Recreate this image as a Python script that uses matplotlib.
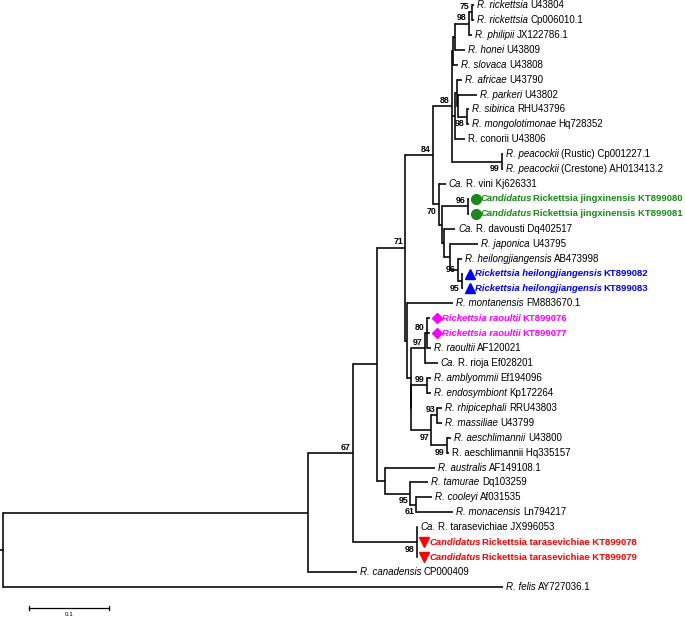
import matplotlib
matplotlib.use("Agg")
import matplotlib.pyplot as plt

# ============ DATOS DEL ARBOL ============
# nodos internos: nombre, padre, longitud de rama, bootstrap
node_names = ["root", "ing", "n67", "nX", "nT", "n71", "nAT", "nTCM", "nCM", "n84",
              "nM", "nN", "nR97", "nR80", "nB", "nA99", "n97b", "n93", "n99a", "n88",
              "n70", "nP", "nJ", "nQ", "nR", "nH96", "nH95", "nPea", "nB1", "nA",
              "n98t", "n75", "nD", "nC", "nC2", "n98s"]
node_parent = [None, "root", "ing", "n67", "n67", "nX", "nX", "nAT", "nTCM", "n71",
               "n71", "nM", "nN", "nR97", "nN", "nB", "nB", "n97b", "n97b", "n84",
               "n84", "n70", "nP", "nP", "nQ", "nR", "nH96", "n88", "n88", "nB1",
               "nA", "n98t", "n88", "nD", "nC", "nC2"]
node_len = [0, 0.381, 0.056, 0.030, 0.080, 0.036, 0.011, 0.031, 0.0075, 0.034,
            0.0025, 0.004, 0.0175, 0.0025, 0.001, 0.019, 0.025, 0.0075, 0.019, 0.024,
            0.0075, 0.004, 0.0325, 0.0025, 0.0075, 0.010, 0.005, 0.0625, 0.001, 0.0025,
            0.0175, 0.004, 0.004, 0.0025, 0.001, 0.011]
node_support = [None, None, 67, None, 98, 71, None, 95, 61, 84,
                None, None, 97, 80, None, 99, 97, 93, 99, 88,
                70, None, 96, None, None, 96, 95, 99, None, None,
                98, 75, None, None, None, 98]
# posicion de la etiqueta de bootstrap respecto al nodo
support_side = {"n67": "up", "nT": "down", "n71": "up", "nTCM": "down", "nCM": "down",
                "n84": "up", "nR97": "up", "nR80": "up", "nA99": "up", "n97b": "down",
                "n93": "up", "n99a": "down", "n88": "up", "n70": "down", "nJ": "up",
                "nH96": "mid", "nH95": "down", "nPea": "down", "n98t": "up", "n75": "up",
                "n98s": "down"}

# hojas (de arriba hacia abajo); *texto* = cursiva
leaf_labels = [
    "*R. rickettsia* U43804", "*R. rickettsia* Cp006010.1", "*R. philipii* JX122786.1",
    "*R. honei* U43809", "*R. slovaca* U43808", "*R. africae* U43790", "*R. parkeri* U43802",
    "*R. sibirica* RHU43796", "*R. mongolotimonae* Hq728352", "R. conorii U43806",
    "*R. peacockii* (Rustic) Cp001227.1", "*R. peacockii* (Crestone) AH013413.2",
    "*Ca.* R. vini Kj626331",
    "*Candidatus* Rickettsia jingxinensis KT899080", "*Candidatus* Rickettsia jingxinensis KT899081",
    "*Ca.* R. davousti Dq402517", "*R. japonica* U43795", "*R. heilongjiangensis* AB473998",
    "*Rickettsia heilongjiangensis* KT899082", "*Rickettsia heilongjiangensis* KT899083",
    "*R. montanensis* FM883670.1",
    "*Rickettsia raoultii* KT899076", "*Rickettsia raoultii* KT899077",
    "*R. raoultii* AF120021", "*Ca.* R. rioja Ef028201", "*R. amblyommii* Ef194096",
    "*R. endosymbiont* Kp172264", "*R. rhipicephali* RRU43803", "*R. massiliae* U43799",
    "*R. aeschlimannii* U43800", "R. aeschlimannii Hq335157", "*R. australis* AF149108.1",
    "*R. tamurae* Dq103259", "*R. cooleyi* Af031535", "*R. monacensis* Ln794217",
    "*Ca.* R. tarasevichiae JX996053",
    "*Candidatus* Rickettsia tarasevichiae KT899078", "*Candidatus* Rickettsia tarasevichiae KT899079",
    "*R. canadensis* CP000409", "*R. felis* AY727036.1"]
leaf_parent = ["n75", "n75", "n98t", "nA", "nB1", "nC", "nC2", "n98s", "n98s", "nD",
               "nPea", "nPea", "n70", "nJ", "nJ", "nQ", "nR", "nH96", "nH95", "nH95",
               "nM", "nR80", "nR80", "nR80", "nR97", "nA99", "nA99", "n93", "n93", "n99a",
               "n99a", "nAT", "nTCM", "nCM", "nCM", "nT", "nT", "nT", "ing", "root"]
leaf_len = [0.003, 0.003, 0.004, 0.013, 0.007, 0.006, 0.024, 0.003, 0.003, 0.0125,
            0.001, 0.001, 0.009, 0.001, 0.001, 0.014, 0.035, 0.005, 0.002, 0.002,
            0.057, 0.004, 0.004, 0.005, 0.0165, 0.005, 0.005, 0.006, 0.006, 0.006,
            0.003, 0.062, 0.0225, 0.02, 0.046, 0.001, 0.001, 0.001, 0.0615, 0.625]
leaf_group = [None] * 13 + ["jing", "jing"] + [None] * 3 + ["heil", "heil"] + [None] + \
             ["raou", "raou"] + [None] * 13 + ["tara", "tara"] + [None] * 2

SCALE_LEN = 0.1
# =========================================

group_style = {
    "jing": dict(color="#178a17", marker="o", ms=7),
    "heil": dict(color="#0000ff", marker="^", ms=7),
    "raou": dict(color="#ff00ff", marker="D", ms=5.5),
    "tara": dict(color="#ff0000", marker="v", ms=7),
}
FONT = "Liberation Sans"
PX = 800.0  # pixeles por unidad de distancia
STEP = 14.92  # pixeles entre hojas


def layout():
    """Calcula x (profundidad) e y (posicion vertical) de cada nodo."""
    parent = dict(zip(node_names, node_parent))
    length = dict(zip(node_names, node_len))
    x = {}

    def depth(n):
        if n in x:
            return x[n]
        p = parent[n]
        x[n] = 0.0 if p is None else depth(p) + length[n]
        return x[n]

    for n in node_names:
        depth(n)
    leaf_x = [x[p] + l for p, l in zip(leaf_parent, leaf_len)]
    leaf_y = list(range(len(leaf_labels)))

    children = {n: [] for n in node_names}
    for n, p in zip(node_names, node_parent):
        if p is not None:
            children[p].append(("node", n))
    for i, p in enumerate(leaf_parent):
        children[p].append(("leaf", i))

    y = {}

    def ypos(n):
        if n in y:
            return y[n]
        ys = [leaf_y[c] if t == "leaf" else ypos(c) for t, c in children[n]]
        y[n] = (min(ys) + max(ys)) / 2
        return y[n]

    for n in node_names:
        ypos(n)
    return x, y, leaf_x, leaf_y, children


def draw_label(ax, x, y, text, color, bold, dx, size, gap_it, gap_up):
    partes = text.split("*")
    prev = None
    prev_it = False
    for k, t in enumerate(partes):
        if not t.strip():
            continue
        ital = k % 2 == 1
        kw = dict(fontsize=size, color=color, family=FONT,
                  fontweight="bold" if bold else "normal",
                  fontstyle="italic" if ital else "normal")
        if prev is None:
            prev = ax.annotate(t.strip(), xy=(x, y), xytext=(dx, 0), textcoords="offset pixels",
                               ha="left", va="center", **kw)
        else:
            # el espacio entre partes se pone a mano (en pixeles)
            if t.startswith(" "):
                g = gap_it if prev_it else gap_up
            else:
                g = 0.5
            prev = ax.annotate(t.strip(), xy=(1, 0), xycoords=prev, xytext=(g, 0),
                               textcoords="offset pixels", ha="left", va="bottom", **kw)
        prev_it = ital


def main():
    fig = plt.figure(figsize=(6.85, 6.17), dpi=100)
    ax = fig.add_axes([0, 0, 1, 1])
    ax.set_xlim(-3 / PX, 682 / PX)
    ax.set_ylim(612 / STEP, -5 / STEP)
    ax.axis("off")

    x, y, leaf_x, leaf_y, children = layout()
    parent = dict(zip(node_names, node_parent))
    lw = 1.15

    # ramas de nodos internos
    for n in node_names:
        ys = [leaf_y[c] if t == "leaf" else y[c] for t, c in children[n]]
        ax.plot([x[n], x[n]], [min(ys), max(ys)], color="black", lw=lw, solid_capstyle="projecting")
        p = parent[n]
        if p is not None:
            ax.plot([x[p], x[n]], [y[n], y[n]], color="black", lw=lw, solid_capstyle="butt")
    # raiz
    ax.plot([-3 / PX, 0], [y["root"], y["root"]], color="black", lw=lw)

    # hojas
    for i, lab in enumerate(leaf_labels):
        px_ = x[leaf_parent[i]]
        ax.plot([px_, leaf_x[i]], [leaf_y[i], leaf_y[i]], color="black", lw=lw, solid_capstyle="butt")
        g = leaf_group[i]
        if g is None:
            draw_label(ax, leaf_x[i], leaf_y[i], lab, "black", False, 3, 7, 2.5, 2.5)
        else:
            st = group_style[g]
            ax.plot([leaf_x[i] + 7 / PX], [leaf_y[i]], marker=st["marker"], ms=st["ms"],
                    color=st["color"], mec=st["color"], linestyle="none")
            draw_label(ax, leaf_x[i], leaf_y[i], lab, st["color"], True, 12, 6.8, 1.5, 3.0)

    # valores de bootstrap
    for n, s in zip(node_names, node_support):
        if s is None:
            continue
        side = support_side.get(n, "up")
        dy = {"up": 6, "down": -7, "mid": 0}[side]
        ax.annotate(str(s), xy=(x[n], y[n]), xytext=(-2, dy), textcoords="offset pixels",
                    ha="right", va="center", fontsize=6.3, fontweight="bold", family=FONT)

    # barra de escala
    x0 = 26 / PX
    yb = 603 / STEP
    ax.plot([x0, x0 + SCALE_LEN], [yb, yb], color="black", lw=0.9)
    for xx in (x0, x0 + SCALE_LEN):
        ax.plot([xx, xx], [yb - 0.15, yb + 0.15], color="black", lw=0.9)
    ax.annotate(f"{SCALE_LEN:g}", xy=(x0 + SCALE_LEN / 2, yb), xytext=(0, -7),
                textcoords="offset pixels", ha="center", va="center", fontsize=4.5, family=FONT)

    fig.savefig("out.png", dpi=100)


if __name__ == "__main__":
    main()
